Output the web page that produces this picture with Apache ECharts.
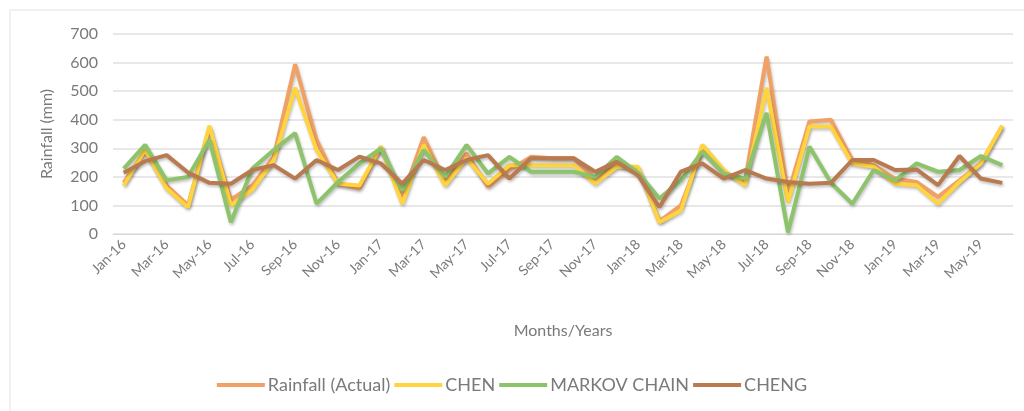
<!DOCTYPE html>
<html>
<head>
<meta charset="utf-8">
<script src="https://cdn.jsdelivr.net/npm/echarts@6/dist/echarts.min.js"></script>
<style>
  html, body { margin: 0; padding: 0; background: #fff; }
  #chart { width: 1024px; height: 411px; }
</style>
</head>
<body>
<div id="chart"></div>
<script>
// months Jan-16 .. Jun-19
const months = ['Jan-16','Feb-16','Mar-16','Apr-16','May-16','Jun-16','Jul-16','Aug-16','Sep-16','Oct-16','Nov-16','Dec-16',
  'Jan-17','Feb-17','Mar-17','Apr-17','May-17','Jun-17','Jul-17','Aug-17','Sep-17','Oct-17','Nov-17','Dec-17',
  'Jan-18','Feb-18','Mar-18','Apr-18','May-18','Jun-18','Jul-18','Aug-18','Sep-18','Oct-18','Nov-18','Dec-18',
  'Jan-19','Feb-19','Mar-19','Apr-19','May-19','Jun-19'];

const actual = [180, 290, 170, 100, 370, 120, 170, 270, 594, 329, 176, 159,
  306, 130, 339, 182, 282, 165, 224, 270, 265, 265, 194, 241,
  230, 45, 100, 294, 212, 188, 621, 141, 394, 400, 259, 241,
  194, 182, 130, 188, 247, 378];

const chen = [170, 295, 160, 94, 379, 100, 155, 258, 512, 294, 176, 170,
  306, 106, 312, 170, 265, 176, 241, 241, 241, 241, 176, 235,
  235, 41, 82, 312, 224, 170, 512, 112, 376, 376, 247, 235,
  176, 171, 106, 182, 247, 379];

const markov = [229, 312, 188, 200, 329, 41, 229, 294, 353, 106, 182, 247,
  300, 153, 294, 200, 312, 212, 270, 218, 218, 218, 200, 270,
  215, 124, 188, 288, 212, 194, 424, 6, 306, 180, 106, 224,
  188, 247, 218, 224, 273, 241];

const cheng = [214, 255, 276, 215, 179, 176, 224, 241, 194, 259, 224, 271,
  247, 176, 259, 224, 259, 276, 194, 265, 265, 265, 218, 253,
  205, 94, 218, 247, 194, 224, 194, 182, 176, 179, 259, 259,
  224, 226, 171, 273, 194, 179];

const yTicks = [0, 100, 200, 300, 400, 500, 600, 700];

const colors = ['#F2A166', '#FFD43F', '#8DC46B', '#B87A4E'];
const names = ['Rainfall (Actual)', 'CHEN', 'MARKOV CHAIN', 'CHENG'];
const font = 'Lato, "Open Sans", sans-serif';

function mkLine(name, data, color) {
  return {
    name: name,
    type: 'line',
    data: data,
    symbol: 'none',
    lineStyle: {
      width: 4,
      color: color,
      shadowColor: 'rgba(0,0,0,0.25)',
      shadowBlur: 3,
      shadowOffsetX: 1,
      shadowOffsetY: 2
    },
    itemStyle: { color: color }
  };
}

let myChart = echarts.init(document.getElementById('chart'));
myChart.setOption({
  animation: false,
  backgroundColor: '#fff',
  textStyle: { fontFamily: font },
  graphic: [{
    type: 'rect',
    shape: { x: 10, y: 10, width: 1030, height: 420 },
    style: { fill: 'none', stroke: '#e3e3e3', lineWidth: 1 }
  }],
  grid: { left: 113, right: 11, top: 34, bottom: 177 },
  legend: {
    bottom: 12,
    left: 'center',
    itemWidth: 48,
    itemHeight: 4,
    itemGap: 4,
    icon: 'rect',
    textStyle: { color: '#7a7a7a', fontSize: 18, fontFamily: font, padding: [0, 0, 0, -2] },
    data: names
  },
  xAxis: {
    type: 'category',
    data: months,
    boundaryGap: true,
    name: 'Months/Years',
    nameLocation: 'middle',
    nameGap: 89,
    nameTextStyle: { color: '#7a7a7a', fontSize: 16 },
    axisLine: { lineStyle: { color: '#d9d9d9' } },
    axisTick: { show: false },
    axisLabel: { interval: 1, rotate: 45, color: '#7a7a7a', fontSize: 14, margin: 8 }
  },
  yAxis: {
    type: 'value',
    min: yTicks[0],
    max: yTicks[yTicks.length - 1],
    interval: 100,
    name: 'Rainfall (mm)',
    nameLocation: 'middle',
    nameGap: 58,
    nameTextStyle: { color: '#7a7a7a', fontSize: 16 },
    axisLine: { show: false },
    axisTick: { show: false },
    axisLabel: { color: '#7a7a7a', fontSize: 16, margin: 15 },
    splitLine: { lineStyle: { color: '#e0e0e0', width: 1.5 } }
  },
  series: [
    mkLine(names[0], actual, colors[0]),
    mkLine(names[1], chen, colors[1]),
    mkLine(names[2], markov, colors[2]),
    mkLine(names[3], cheng, colors[3])
  ]
});
</script>
</body>
</html>
